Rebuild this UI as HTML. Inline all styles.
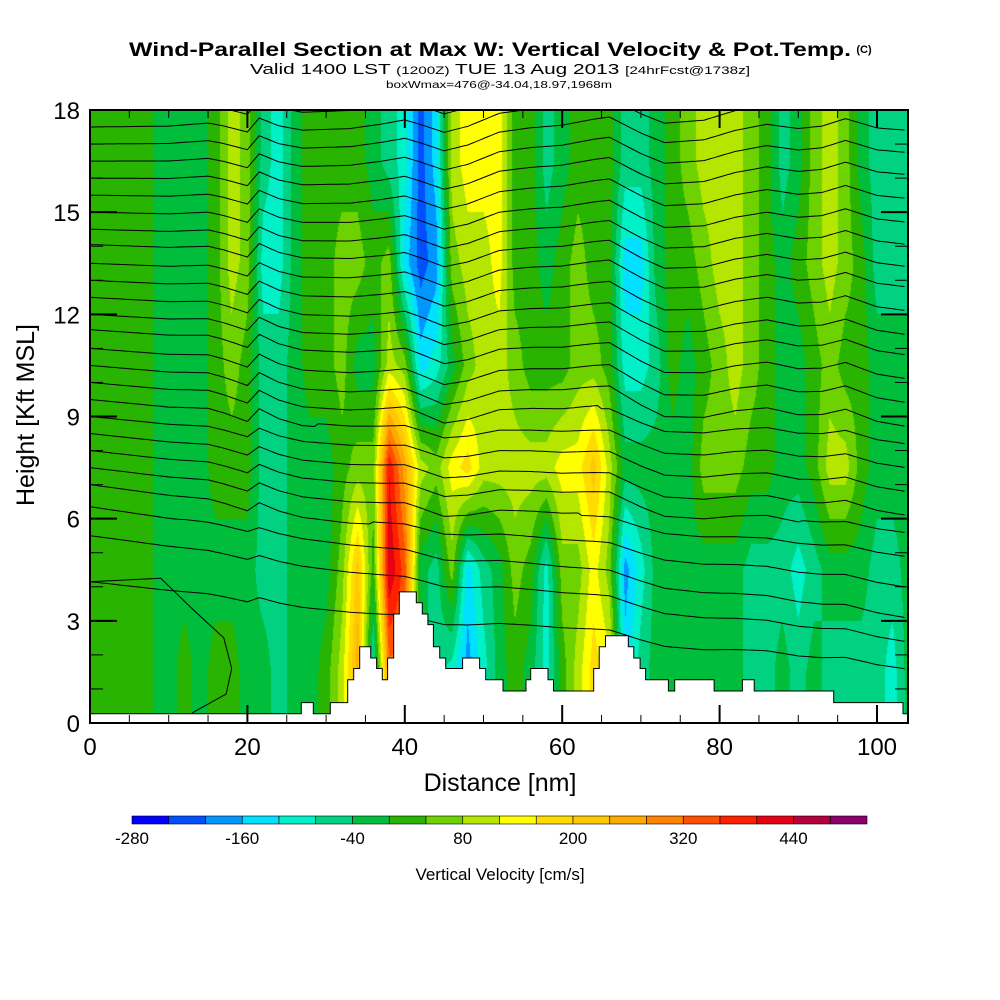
<!DOCTYPE html>
<html><head><meta charset="utf-8"><style>
html,body{margin:0;padding:0;background:#fff}
#wrap{position:relative;width:1000px;height:1000px;overflow:hidden;font-family:"Liberation Sans",sans-serif}
canvas{position:absolute;left:90px;top:110px}
svg{position:absolute;left:0;top:0}
</style></head><body>
<div id="wrap">
<canvas id="field" width="818" height="613"></canvas>
<svg id="svg" width="1000" height="1000">
<defs><clipPath id="plotclip"><rect x="90" y="110" width="818" height="613"/></clipPath></defs>
<text x="490" y="56" text-anchor="middle" font-size="19" font-weight="bold" textLength="722" lengthAdjust="spacingAndGlyphs">Wind-Parallel Section at Max W: Vertical Velocity &amp; Pot.Temp.</text>
<text x="864" y="53" text-anchor="middle" font-size="11" font-weight="bold">(C)</text>
<text x="500" y="74" text-anchor="middle" font-size="15" textLength="500" lengthAdjust="spacingAndGlyphs">Valid 1400 LST <tspan font-size="11">(1200Z)</tspan> TUE 13 Aug 2013 <tspan font-size="11">[24hrFcst@1738z]</tspan></text>
<text x="499" y="88" text-anchor="middle" font-size="10" textLength="226" lengthAdjust="spacingAndGlyphs">boxWmax=476@-34.04,18.97,1968m</text>
<g id="lines" clip-path="url(#plotclip)"></g>
<polygon id="terrain" fill="#fff" stroke="#000" stroke-width="1"></polygon>
<rect x="90" y="110" width="818" height="613" fill="none" stroke="#000" stroke-width="2"></rect>
<g id="ticks"></g>
<g id="xlabels" font-size="24" text-anchor="middle"></g>
<g id="ylabels" font-size="24" text-anchor="end"></g>
<text x="500" y="791" text-anchor="middle" font-size="25">Distance [nm]</text>
<text transform="translate(34,415) rotate(-90)" text-anchor="middle" font-size="25">Height [Kft MSL]</text>
<g id="cbar"></g>
<g id="cblabels" font-size="17" text-anchor="middle"></g>
<text x="500" y="880" text-anchor="middle" font-size="17">Vertical Velocity [cm/s]</text>
</svg>
</div>
<script>
// ---- data ----
const colNm = [0,2,4,6,8,10,12,14,16,18,20,22,24,26,28,30,32,34,36,38,40,42,44,46,48,50,52,54,56,58,60,62,64,66,68,70,72,74,76,78,80,82,84,86,88,90,92,94,96,98,100,102,104];
const rowKft = [16.5,13.5,10.5,7.5,4.5,1.5];
const w165 = [20,20,20,20,0,-20,-20,-20,20,100,60,-60,-100,-20,20,20,20,20,-20,-60,-100,-220,-140,100,140,140,140,20,20,-60,-20,20,20,20,-60,-60,-20,20,60,100,100,100,60,20,-60,-20,60,100,60,-20,-60,-60,-60];
const w135 = [20,20,20,20,0,-20,-20,-20,20,100,60,-100,-100,-20,20,20,60,60,20,60,-140,-220,-180,60,100,100,140,20,20,-20,20,60,20,20,-140,-140,-20,20,20,60,100,100,60,20,-20,20,60,100,60,20,-60,-60,-60];
const w105 = [20,20,20,20,0,-20,-20,-20,20,60,20,-60,-60,-20,20,20,60,-20,-20,100,60,-140,-100,-20,60,100,100,60,20,20,20,60,60,20,-100,-100,-60,20,-20,20,60,100,60,20,-20,-20,20,60,20,20,-20,-20,-20];
const w75 = [20,20,20,20,0,-20,-20,-20,20,20,20,-60,-60,-20,-20,-20,20,60,60,400,260,100,60,140,180,100,100,100,100,100,140,140,220,100,-20,-20,-20,-20,-20,60,60,60,20,20,-20,-20,20,100,100,20,-20,-20,-20];
const w45 = [20,20,20,20,0,-20,-20,-20,-20,-20,-20,-60,-60,-20,-20,-20,60,220,20,440,340,-20,-60,60,-140,-60,-20,60,20,-100,60,60,140,60,-180,-100,-20,-20,-20,-20,-20,-20,-60,-60,-60,-100,-60,-20,-20,-20,-60,-60,-20];
const w15 = [20,20,20,20,0,-20,20,-20,20,20,-20,-20,-60,-20,-20,20,100,260,-100,300,300,-20,-60,-100,-180,-100,-20,20,-20,-100,20,100,180,140,-140,-60,-20,-20,-20,-20,-20,-20,-60,-60,-20,-60,-20,-60,-60,-60,-60,-100,-20];
const terrainNm = [0,26.85,28.38,30.54,32.74,33.51,34.27,35.67,36.42,37.14,37.82,38.59,39.3,41.46,42.23,42.94,43.63,44.43,45.2,47.35,49.5,50.28,52.48,55.4,56.0,58.2,58.9,64.0,64.7,65.5,68.4,69.1,69.9,70.6,73.5,74.3,79.3,82.9,84.4,94.5,103.3];
const terrainKft = [0.27,0.6,0.27,0.6,1.27,1.6,2.24,1.91,1.6,1.27,1.91,3.2,3.85,3.53,3.2,2.89,2.24,1.91,1.6,1.91,1.6,1.27,0.94,1.27,1.6,1.27,0.94,1.6,2.24,2.56,2.24,1.91,1.6,1.27,0.94,1.27,0.94,1.27,0.94,0.6,0.27];
const thetaLeft  = [18.0,17.5,17.0,16.5,16.0,15.5,15.0,14.5,14.05,13.5,13.0,12.5,12.0,11.55,11.0,10.5,10.0,9.5,9.0,8.5,8.0,7.5,7.0,6.35,5.5,4.15];
const thetaRight = [18.9,18.3,17.7,17.05,16.4,15.7,15.0,14.35,13.7,13.1,12.4,11.7,11.1,10.4,9.7,9.0,8.4,7.7,7.0,6.3,5.7,5.0,4.1,3.2,2.5,1.7];
const dispNm = [0,10,15,17,20,21.5,24,27,33,37,40,42,45,48,52,56,60,64,66,70,73,78,82,86,90,93,96,100,104];
const dispKft = [0,-0.05,0,-0.1,-0.3,0.1,-0.15,-0.3,-0.3,-0.2,-0.1,-0.25,-0.5,-0.35,0,0.1,0.15,0.3,0.35,-0.15,-0.45,-0.4,-0.15,0,-0.15,-0.1,0.1,-0.2,-0.3];
const lowLineNm = [0,9,13,17,18,17.3,13];
const lowLineKft = [4.15,4.25,3.35,2.5,1.6,0.85,0.3];
const cbColors = ["#0000ff","#0050ff","#0096ff","#00e0ff","#00f0c8","#00d282","#00be3c","#28b400","#6ed200","#b4e600","#ffff00","#ffdc00","#ffc800","#ffaa00","#ff8200","#ff5000","#ff2000","#e60014","#b4003c","#8c006e"];
const cbTicks = [-280,-160,-40,80,200,320,440];
const xTicks = [0,20,40,60,80,100];
const yTicks = [0,3,6,9,12,15,18];

// ---- scales ----
const X0=90,X1=908,Y0=723,Y1=110,NMMAX=103.94,KMAX=18;
const X = nm => X0 + nm*(X1-X0)/NMMAX;
const Y = k => Y0 - k*(Y0-Y1)/KMAX;
const NS="http://www.w3.org/2000/svg";
function mk(tag,attrs,parent){const e=document.createElementNS(NS,tag);for(const a in attrs)e.setAttribute(a,attrs[a]);parent.appendChild(e);return e;}

// ---- field ----
const rows=[w165,w135,w105,w75,w45,w15];
function lerp1(arr,xs,x){if(x<=xs[0])return arr[0];for(let i=0;i<xs.length-1;i++){if(x<=xs[i+1]){const t=(x-xs[i])/(xs[i+1]-xs[i]);return arr[i]*(1-t)+arr[i+1]*t;}}return arr[arr.length-1];}
function hex(c){return [parseInt(c.substr(1,2),16),parseInt(c.substr(3,2),16),parseInt(c.substr(5,2),16)];}
const rgb=cbColors.map(hex);
(function(){
  const cv=document.getElementById('field'),ctx=cv.getContext('2d');
  const W=cv.width,H=cv.height,img=ctx.createImageData(W,H);
  const hs=rowKft.slice().reverse();
  for(let px=0;px<W;px++){
    const nm=(px+0.5)*NMMAX/(X1-X0);
    const rv=rows.map(r=>lerp1(r,colNm,nm)).reverse();
    for(let py=0;py<H;py++){
      const k=(H-py-0.5)*KMAX/(Y0-Y1);
      const v=lerp1(rv,hs,k);
      let b=Math.floor((v+280)/40);b=Math.max(0,Math.min(19,b));
      const c=rgb[b],i=(py*W+px)*4;
      img.data[i]=c[0];img.data[i+1]=c[1];img.data[i+2]=c[2];img.data[i+3]=255;
    }
  }
  ctx.putImageData(img,0,0);
})();

// ---- contour lines ----
const lg=document.getElementById('lines');
thetaLeft.forEach((b,i)=>{
  const br=thetaRight[i];
  let pts=[];
  for(let nm=0;nm<=NMMAX+0.01;nm+=0.5){
    const t=nm/NMMAX, base=b*(1-t)+br*t;
    const sc = base>9?1:(base>6?0.7:0.4);
    pts.push(X(nm).toFixed(1)+','+Y(base+sc*lerp1(dispKft,dispNm,nm)).toFixed(1));
  }
  const p=mk('polyline',{points:pts.join(' '),fill:'none',stroke:'#000','stroke-width':1},lg);
  
  
});
{
  const pts=lowLineNm.map((n,i)=>X(n).toFixed(1)+','+Y(lowLineKft[i]).toFixed(1));
  const p=mk('polyline',{points:pts.join(' '),fill:'none',stroke:'#000','stroke-width':1},lg);
  
  
}

// ---- terrain ----
{
  let pts=[[X(0),Y(0)]];
  for(let i=0;i<terrainNm.length;i++){
    const x=X(terrainNm[i]);
    if(i>0)pts.push([x,Y(terrainKft[i-1])]);
    pts.push([x,Y(terrainKft[i])]);
  }
  pts.push([X(NMMAX),Y(terrainKft[terrainKft.length-1])]);
  pts.push([X(NMMAX),Y(0)]);
  document.getElementById('terrain').setAttribute('points',pts.map(p=>p[0].toFixed(1)+','+p[1].toFixed(1)).join(' '));
}

// ---- ticks ----
const tg=document.getElementById('ticks');
for(let nm=0;nm<=NMMAX;nm+=5){
  const major=nm%20===0,len=major?18:8,x=X(nm);
  const t1=mk('line',{x1:x,x2:x,y1:Y0,y2:Y0-len,stroke:'#000','stroke-width':major?2:1},tg);
  
  const t2=mk('line',{x1:x,x2:x,y1:Y1,y2:Y1+len,stroke:'#000','stroke-width':major?2:1},tg);
  
}
for(let k=0;k<=18;k++){
  const major=k%3===0,len=major?27:13,y=Y(k);
  const t1=mk('line',{x1:X0,x2:X0+len,y1:y,y2:y,stroke:'#000','stroke-width':major?2:1},tg);
  
  const t2=mk('line',{x1:X1,x2:X1-len,y1:y,y2:y,stroke:'#000','stroke-width':major?2:1},tg);
  
}
const xl=document.getElementById('xlabels');
xTicks.forEach(v=>{const t=mk('text',{x:X(v),y:755},xl);t.textContent=v;
  });
const yl=document.getElementById('ylabels');
yTicks.forEach(v=>{const t=mk('text',{x:80,y:Y(v)+9},yl);t.textContent=v;
  });

// ---- colorbar ----
const CB0=132,CB1=867,cbw=(CB1-CB0)/cbColors.length;
const cbX=v=>CB0+(v+280)*(CB1-CB0)/800;
const cg=document.getElementById('cbar');
cbColors.forEach((c,i)=>{const r=mk('rect',{x:CB0+i*cbw,y:816,width:cbw,height:8,fill:c,stroke:'#000','stroke-width':0.6},cg);
  });
const cl=document.getElementById('cblabels');
cbTicks.forEach(v=>{const t=mk('text',{x:cbX(v),y:844},cl);t.textContent=v;
  });
</script>
</body></html>
